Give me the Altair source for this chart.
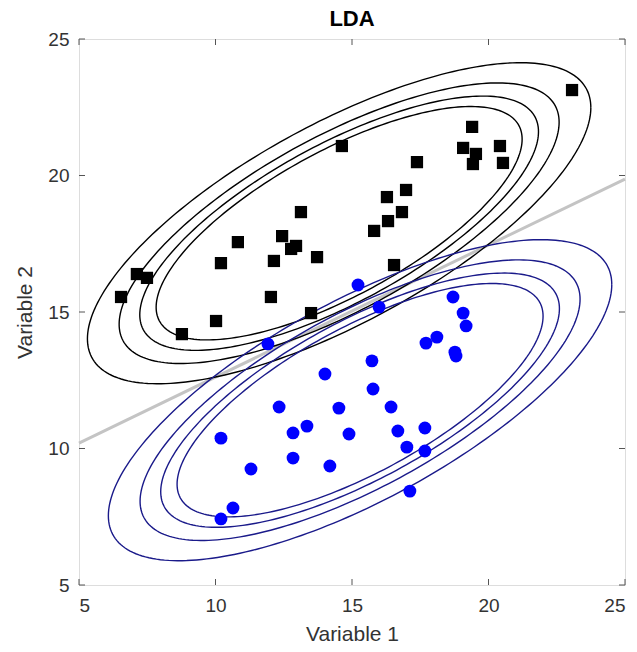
import altair as alt
import numpy as np
import pandas as pd

# ---- data ----
black_x = [6.54, 7.12, 7.49, 8.77, 10.02, 10.20, 10.82, 12.03, 12.14, 12.44,
           12.77, 12.95, 13.13, 13.50, 13.72, 14.63, 15.81, 16.32, 16.28, 16.83,
           16.98, 16.54, 17.38, 19.07, 19.40, 19.54, 19.43, 20.42, 20.53, 23.06]
black_y = [15.55, 16.39, 16.25, 14.19, 14.67, 16.79, 17.56, 15.55, 16.87, 17.78,
           17.31, 17.42, 18.66, 14.96, 17.01, 21.08, 17.97, 18.33, 19.21, 18.66,
           19.47, 16.72, 20.49, 21.01, 21.78, 20.79, 20.42, 21.08, 20.46, 23.13]
blue_x = [15.22, 15.99, 11.92, 18.70, 19.07, 19.18, 18.11, 17.71, 18.77, 18.81,
          15.73, 14.01, 15.77, 12.33, 14.52, 16.43, 13.35, 12.84, 14.89, 16.68,
          17.67, 10.20, 17.01, 17.67, 12.84, 14.19, 11.30, 17.12, 10.64, 10.20]
blue_y = [15.99, 15.18, 13.83, 15.55, 14.96, 14.49, 14.08, 13.86, 13.53, 13.39,
          13.21, 12.73, 12.18, 11.52, 11.48, 11.52, 10.82, 10.57, 10.53, 10.64,
          10.75, 10.38, 10.05, 9.91, 9.65, 9.36, 9.25, 8.44, 7.82, 7.42]

# LDA boundary end points
boundary_x = [5.0, 25.0]
boundary_y = [10.2, 19.87]

# shared-covariance contour shape (outer contour half extents, correlation)
ellipse_half_x = 9.22
ellipse_half_y = 5.88
ellipse_rho = 0.72
contour_scales = [1.0, 0.874, 0.792, 0.727]

tick_values = [5, 10, 15, 20, 25]

# ---- frames ----
pts = pd.concat([
    pd.DataFrame({"x": black_x, "y": black_y, "cls": "A"}),
    pd.DataFrame({"x": blue_x, "y": blue_y, "cls": "B"}),
])

rows = []
theta = np.linspace(0, 2 * np.pi, 241)
for cls, xs, ys in [("A", black_x, black_y), ("B", blue_x, blue_y)]:
    mx, my = float(np.mean(xs)), float(np.mean(ys))
    for k, s in enumerate(contour_scales):
        ex = mx + s * ellipse_half_x * np.cos(theta)
        ey = my + s * ellipse_half_y * (ellipse_rho * np.cos(theta)
                                         + np.sqrt(1 - ellipse_rho ** 2) * np.sin(theta))
        for i in range(len(theta)):
            rows.append({"x": ex[i], "y": ey[i], "cls": cls,
                         "grp": f"{cls}{k}", "i": i})
ell = pd.DataFrame(rows)
bnd = pd.DataFrame({"x": boundary_x, "y": boundary_y})
ticks = pd.DataFrame({"v": tick_values})

W = H = 546
FONT = "Liberation Sans"

xsc = alt.Scale(domain=[5, 25], nice=False, zero=False)
ysc = alt.Scale(domain=[5, 25], nice=False, zero=False)

xaxis = alt.Axis(values=tick_values, title="Variable 1", grid=False, ticks=False,
                 domain=False, labelFontSize=19, titleFontSize=21,
                 labelColor="#333333", titleColor="#333333", labelPadding=11,
                 titlePadding=8, labelFont=FONT, titleFont=FONT,
                 titleFontWeight="normal")
yaxis = alt.Axis(values=tick_values, title="Variable 2", grid=False, ticks=False,
                 domain=False, labelFontSize=19, titleFontSize=21,
                 labelColor="#333333", titleColor="#333333", labelPadding=10,
                 titlePadding=12, labelFont=FONT, titleFont=FONT,
                 titleFontWeight="normal")

line_layer = alt.Chart(bnd).mark_line(color="#c4c4c4", strokeWidth=3).encode(
    x=alt.X("x:Q", scale=xsc, axis=xaxis),
    y=alt.Y("y:Q", scale=ysc, axis=yaxis),
)

ell_layer = alt.Chart(ell).mark_line(strokeWidth=1.4).encode(
    x=alt.X("x:Q", scale=xsc),
    y=alt.Y("y:Q", scale=ysc),
    detail="grp:N",
    order="i:Q",
    color=alt.Color("cls:N", scale=alt.Scale(domain=["A", "B"],
                                             range=["#000000", "#1a1a8a"]),
                    legend=None),
)

sq_layer = alt.Chart(pts[pts.cls == "A"]).mark_point(
    shape="square", filled=True, size=150, color="#000000", opacity=1).encode(
    x=alt.X("x:Q", scale=xsc), y=alt.Y("y:Q", scale=ysc))

ci_layer = alt.Chart(pts[pts.cls == "B"]).mark_point(
    shape="circle", filled=True, size=165, color="#0000ff", opacity=1).encode(
    x=alt.X("x:Q", scale=xsc), y=alt.Y("y:Q", scale=ysc))

tick_col = "#555555"
bt = alt.Chart(ticks).mark_rule(color=tick_col).encode(
    x=alt.X("v:Q", scale=xsc), y=alt.value(H), y2=alt.value(H - 6))
tt = alt.Chart(ticks).mark_rule(color=tick_col).encode(
    x=alt.X("v:Q", scale=xsc), y=alt.value(0), y2=alt.value(6))
lt = alt.Chart(ticks).mark_rule(color=tick_col).encode(
    y=alt.Y("v:Q", scale=ysc), x=alt.value(0), x2=alt.value(6))
rt = alt.Chart(ticks).mark_rule(color=tick_col).encode(
    y=alt.Y("v:Q", scale=ysc), x=alt.value(W), x2=alt.value(W - 6))

chart = alt.layer(line_layer, ell_layer, sq_layer, ci_layer, bt, tt, lt, rt).properties(
    width=W, height=H,
    title=alt.TitleParams("LDA", fontSize=22, fontWeight="bold", font=FONT,
                          color="#000000", offset=9, dy=10),
    autosize=alt.AutoSizeParams(type="none"),
    padding={"left": 79, "top": 39, "right": 12, "bottom": 67},
).configure_view(stroke="#555555", strokeWidth=1.2).configure(background="white")

chart.save("out.html", embed_options={"renderer": "svg", "actions": False})
